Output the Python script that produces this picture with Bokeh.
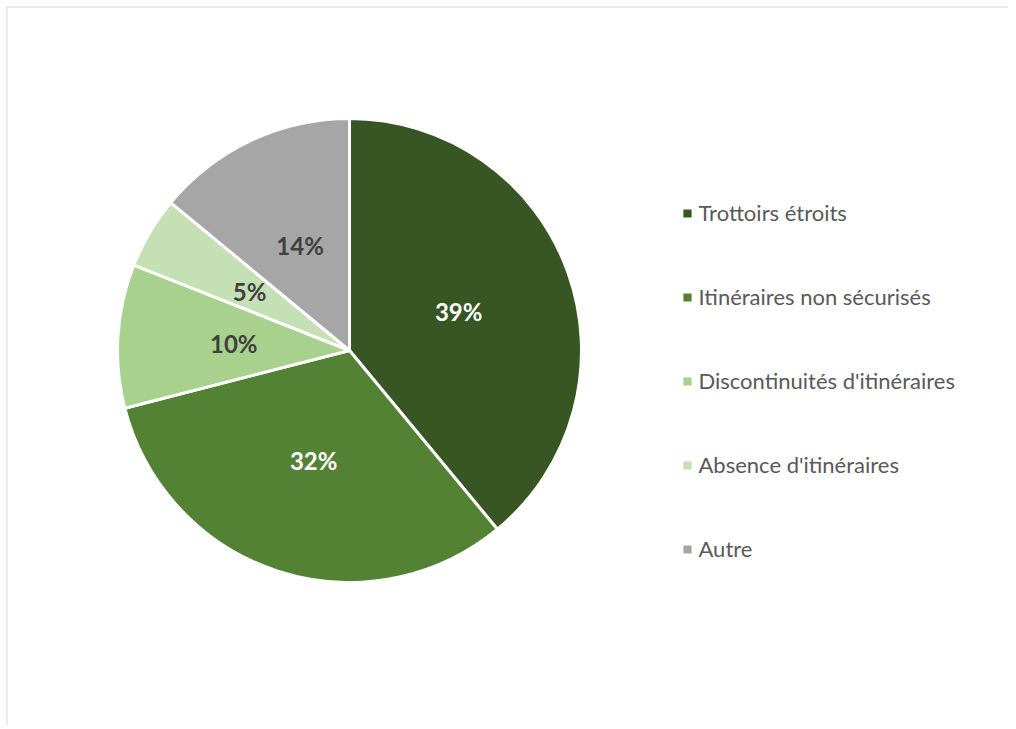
import math
from bokeh.plotting import figure
from bokeh.models import ColumnDataSource, Legend, LegendItem, Range1d, Span
from bokeh.core.properties import value
from bokeh.embed import file_html
from bokeh.resources import INLINE

categories = ["Trottoirs étroits", "Itinéraires non sécurisés",
              "Discontinuités d'itinéraires", "Absence d'itinéraires", "Autre"]
percents = [39, 32, 10, 5, 14]
colors = ["#375623", "#548235", "#A9D18E", "#C5E0B4", "#A6A6A6"]
label_colors = ["#FFFFFF", "#FFFFFF", "#404040", "#404040", "#404040"]

total = sum(percents)
starts, ends, lx, ly, texts = [], [], [], [], []
cum = 0.0
for v in percents:
    a0 = math.pi / 2 - 2 * math.pi * cum / total
    a1 = math.pi / 2 - 2 * math.pi * (cum + v) / total
    mid = (a0 + a1) / 2
    starts.append(a0)
    ends.append(a1)
    lx.append(0.5 * math.cos(mid))
    ly.append(0.5 * math.sin(mid))
    texts.append(f"{v}%")
    cum += v

src = ColumnDataSource(dict(start=starts, end=ends, color=colors, cat=categories,
                            lx=lx, ly=ly, text=texts, tcolor=label_colors))

W, H = 1008, 725
ML, MT = 6, 6
FW, FH = W - ML, H - MT
R = 232.0
cx, cy = 343.0, 344.0  # pie centre in frame pixels (from top-left)

x0, x1 = -cx / R, (FW - cx) / R
y0, y1 = -(FH - cy) / R, cy / R

p = figure(width=W, height=H, output_backend="svg", toolbar_location=None,
           x_range=Range1d(x0, x1), y_range=Range1d(y0, y1),
           min_border=0, min_border_left=ML, min_border_right=0,
           min_border_top=MT, min_border_bottom=0)
p.axis.visible = False
p.grid.visible = False
p.outline_line_color = None
p.background_fill_color = "white"
p.border_fill_color = "white"

p.add_layout(Span(location=x0, dimension="height", line_color="#D9D9D9", line_width=2))
p.add_layout(Span(location=y1, dimension="width", line_color="#D9D9D9", line_width=2))

r = p.wedge(x=0, y=0, radius=1, start_angle="start", end_angle="end",
            direction="clock", fill_color="color", line_color="white",
            line_width=3, source=src)

p.text(x="lx", y="ly", text="text", text_color="tcolor", source=src,
       text_font=value("Lato"), text_font_style="bold", text_font_size="24px",
       text_align="center", text_baseline="middle")

# legend placed (screen px from frame bottom-left) so rows sit 84px apart
legend_bottom = FH - (208.5 - 2 + 4 * 84 + 14)
items = [LegendItem(label=c, renderers=[r], index=i) for i, c in enumerate(categories)]
legend = Legend(items=items, location=(673.5, legend_bottom), orientation="vertical",
                glyph_width=14, glyph_height=14, label_height=28,
                label_standoff=5, spacing=56, padding=0, margin=0,
                border_line_color=None, background_fill_alpha=0,
                label_text_font="Lato", label_text_font_size="22px",
                label_text_color="#595959", label_text_baseline="middle")
p.add_layout(legend, "center")

open("out.html", "w").write(file_html(p, INLINE))
